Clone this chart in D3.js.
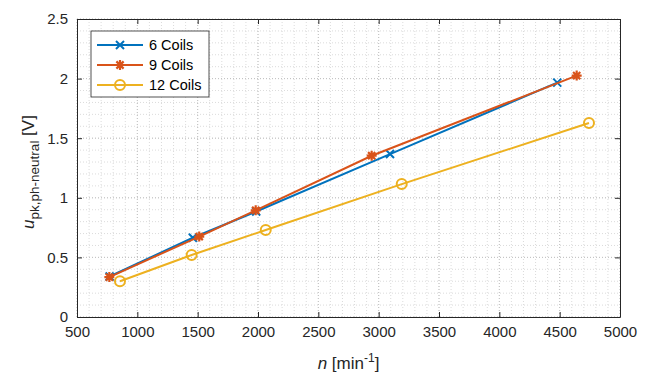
<!DOCTYPE html>
<html><head><meta charset="utf-8">
<script src="https://cdn.jsdelivr.net/npm/d3@7"></script>
<style>
body{margin:0;background:#fff;}
svg{display:block;font-family:"Liberation Sans",Arial,sans-serif;}
</style></head>
<body>
<svg id="c" width="647" height="376"></svg>
<script>
const seriesNames = ["6 Coils","9 Coils","12 Coils"];
const colors = ["#0072BD","#D95319","#EDB120"];
const markers = ["x","star","circle"];
const coils6_n = [770, 1460, 1985, 3094, 4480];
const coils6_u = [0.34, 0.665, 0.885, 1.367, 1.966];
const coils9_n = [768, 1513, 1981, 2942, 4641];
const coils9_u = [0.335, 0.675, 0.895, 1.353, 2.025];
const coils12_n = [856, 1450, 2064, 3191, 4743];
const coils12_u = [0.30, 0.52, 0.73, 1.115, 1.627];
const xTicks = [500,1000,1500,2000,2500,3000,3500,4000,4500,5000];
const yTicks = [0,0.5,1,1.5,2,2.5];
const xTickLabels = ["500","1000","1500","2000","2500","3000","3500","4000","4500","5000"];
const yTickLabels = ["0","0.5","1","1.5","2","2.5"];

const series = [
  {name:seriesNames[0], n:coils6_n, u:coils6_u},
  {name:seriesNames[1], n:coils9_n, u:coils9_u},
  {name:seriesNames[2], n:coils12_n, u:coils12_u}
];

const svg = d3.select("#c");
const L=77, R=620, T=19, B=317;
const x = d3.scaleLinear().domain([500,5000]).range([L,R]);
const y = d3.scaleLinear().domain([0,2.5]).range([B,T]);
const axisCol = "#262626";

// minor grid
const xMinor = d3.range(500,5001,100);
const yMinor = d3.range(0,2.5001,0.1);
const g = svg.append("g");
g.selectAll(".xm").data(xMinor).join("line")
  .attr("x1",d=>x(d)).attr("x2",d=>x(d)).attr("y1",T).attr("y2",B)
  .attr("stroke","#d2d2d2").attr("stroke-width",0.8).attr("stroke-dasharray","1,2");
g.selectAll(".ym").data(yMinor).join("line")
  .attr("y1",d=>y(d)).attr("y2",d=>y(d)).attr("x1",L).attr("x2",R)
  .attr("stroke","#d2d2d2").attr("stroke-width",0.8).attr("stroke-dasharray","1,2");
// major grid
g.selectAll(".xM").data(xTicks).join("line")
  .attr("x1",d=>x(d)).attr("x2",d=>x(d)).attr("y1",T).attr("y2",B)
  .attr("stroke","#bdbdbd").attr("stroke-width",0.9).attr("stroke-dasharray","1,2");
g.selectAll(".yM").data(yTicks).join("line")
  .attr("y1",d=>y(d)).attr("y2",d=>y(d)).attr("x1",L).attr("x2",R)
  .attr("stroke","#bdbdbd").attr("stroke-width",0.9).attr("stroke-dasharray","1,2");

// axes
const xAxis = d3.axisBottom(x).tickValues(xTicks).tickFormat((d,i)=>xTickLabels[i]).tickSizeInner(-5).tickSizeOuter(0).tickPadding(9);
const yAxis = d3.axisLeft(y).tickValues(yTicks).tickFormat((d,i)=>yTickLabels[i]).tickSizeInner(-5).tickSizeOuter(0).tickPadding(9);
const xa = svg.append("g").attr("transform",`translate(0,${B})`).call(xAxis);
const ya = svg.append("g").attr("transform",`translate(${L},0)`).call(yAxis);
[xa,ya].forEach(a=>{
  a.selectAll("path").attr("stroke",axisCol);
  a.selectAll("line").attr("stroke",axisCol);
  a.selectAll("text").attr("fill",axisCol).style("font-size","15px").style("font-family",'"Liberation Sans",Arial,sans-serif');
});
// box top/right
const xTop = d3.axisTop(x).tickValues(xTicks).tickFormat("").tickSizeInner(-5).tickSizeOuter(0);
const yRight = d3.axisRight(y).tickValues(yTicks).tickFormat("").tickSizeInner(-5).tickSizeOuter(0);
const xt = svg.append("g").attr("transform",`translate(0,${T})`).call(xTop);
const yr = svg.append("g").attr("transform",`translate(${R},0)`).call(yRight);
[xt,yr].forEach(a=>{a.selectAll("path,line").attr("stroke",axisCol);});

// lines
const line = d3.line().x(d=>x(d[0])).y(d=>y(d[1]));
function drawMarker(sel, type, color){
  if(type==="x"){
    const s=4;
    sel.append("path").attr("d",`M${-s},${-s}L${s},${s}M${-s},${s}L${s},${-s}`)
      .attr("stroke",color).attr("stroke-width",2).attr("fill","none");
  } else if(type==="star"){
    const s=5, t=3.6;
    sel.append("path").attr("d",`M${-s},0L${s},0M0,${-s}L0,${s}M${-t},${-t}L${t},${t}M${-t},${t}L${t},${-t}`)
      .attr("stroke",color).attr("stroke-width",2.2).attr("fill","none");
  } else {
    sel.append("circle").attr("r",5).attr("fill","none").attr("stroke",color).attr("stroke-width",2);
  }
}
series.forEach((s,i)=>{
  const pts = s.n.map((v,j)=>[v,s.u[j]]);
  svg.append("path").datum(pts).attr("d",line).attr("fill","none")
    .attr("stroke",colors[i]).attr("stroke-width",2);
  pts.forEach(p=>{
    const m = svg.append("g").attr("transform",`translate(${x(p[0])},${y(p[1])})`);
    drawMarker(m, markers[i], colors[i]);
  });
});

// legend
const lg = svg.append("g").attr("transform","translate(91,31)");
lg.append("rect").attr("x",0).attr("y",0).attr("width",118).attr("height",66)
  .attr("fill","#fff").attr("stroke",axisCol).attr("stroke-width",0.8);
series.forEach((s,i)=>{
  const yy = 14 + i*20;
  lg.append("line").attr("x1",6).attr("x2",52).attr("y1",yy).attr("y2",yy)
    .attr("stroke",colors[i]).attr("stroke-width",2);
  const m = lg.append("g").attr("transform",`translate(29,${yy})`);
  drawMarker(m, markers[i], colors[i]);
  lg.append("text").attr("x",58).attr("y",yy+5).text(s.name)
    .attr("fill","#000").style("font-size","14.5px");
});

// axis labels
const xl = svg.append("text").attr("x",(L+R)/2).attr("y",369).attr("text-anchor","middle")
  .attr("fill",axisCol).style("font-size","17px");
xl.append("tspan").attr("font-style","italic").text("n");
xl.append("tspan").text(" [min");
xl.append("tspan").attr("dy",-7).style("font-size","12px").text("-1");
xl.append("tspan").attr("dy",7).text("]");

const yl = svg.append("text").attr("transform",`translate(34,${(T+B)/2+4}) rotate(-90)`)
  .attr("text-anchor","middle").attr("fill",axisCol).style("font-size","17px");
yl.append("tspan").attr("font-style","italic").text("u");
yl.append("tspan").attr("dy",5).style("font-size","13.5px").text("pk,ph-neutral");
yl.append("tspan").attr("dy",-5).text(" [V]");
</script>
</body></html>
